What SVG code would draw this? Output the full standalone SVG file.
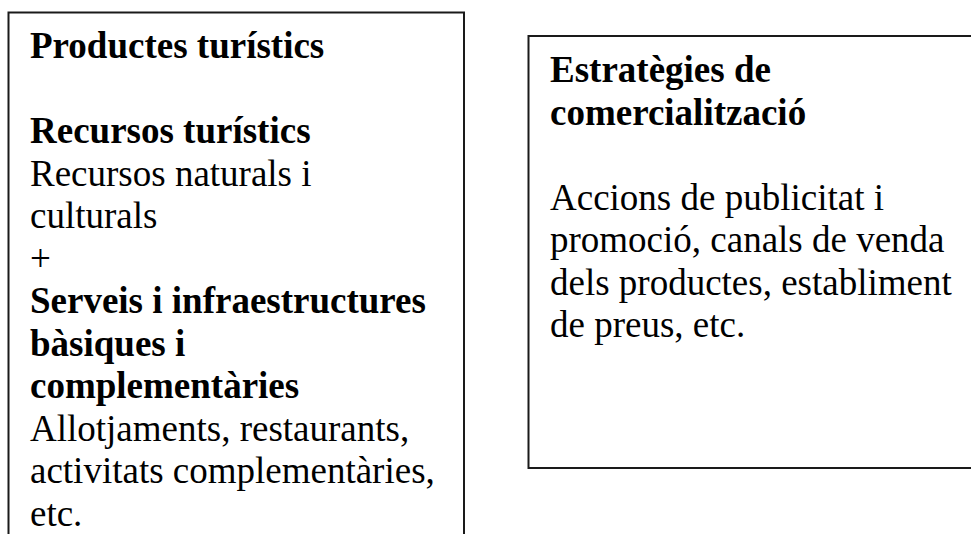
<svg xmlns="http://www.w3.org/2000/svg" width="971" height="534" viewBox="0 0 971 534">
<style>
.box{fill:#fff;stroke:#1a1a1a;stroke-width:2}
text{font-family:"Liberation Serif","Times New Roman",serif;font-size:37px;fill:#000}
.b{font-weight:bold}
</style>
<rect width="971" height="534" fill="#fff"/>
<g id="productes">
<rect class="box" x="8.5" y="12.5" width="455.5" height="540"/>
<text x="30" y="58" class="b">Productes turístics</text>
<text x="30" y="143" class="b">Recursos turístics</text>
<text x="30" y="185.5">Recursos naturals i</text>
<text x="30" y="228">culturals</text>
<text x="30" y="270.5">+</text>
<text x="30" y="313" class="b">Serveis i infraestructures</text>
<text x="30" y="355.5" class="b">bàsiques i</text>
<text x="30" y="398" class="b">complementàries</text>
<text x="30" y="440.5">Allotjaments, restaurants,</text>
<text x="30" y="483">activitats complementàries,</text>
<text x="30" y="525.5">etc.</text>
</g>
<g id="estrategies">
<rect class="box" x="528.5" y="36" width="460" height="432"/>
<text x="550" y="82" class="b">Estratègies de</text>
<text x="550" y="124.5" class="b">comercialització</text>
<text x="550" y="209.5">Accions de publicitat i</text>
<text x="550" y="252">promoció, canals de venda</text>
<text x="550" y="294.5">dels productes, establiment</text>
<text x="550" y="337">de preus, etc.</text>
</g>
<g id="connectors"/>
</svg>
